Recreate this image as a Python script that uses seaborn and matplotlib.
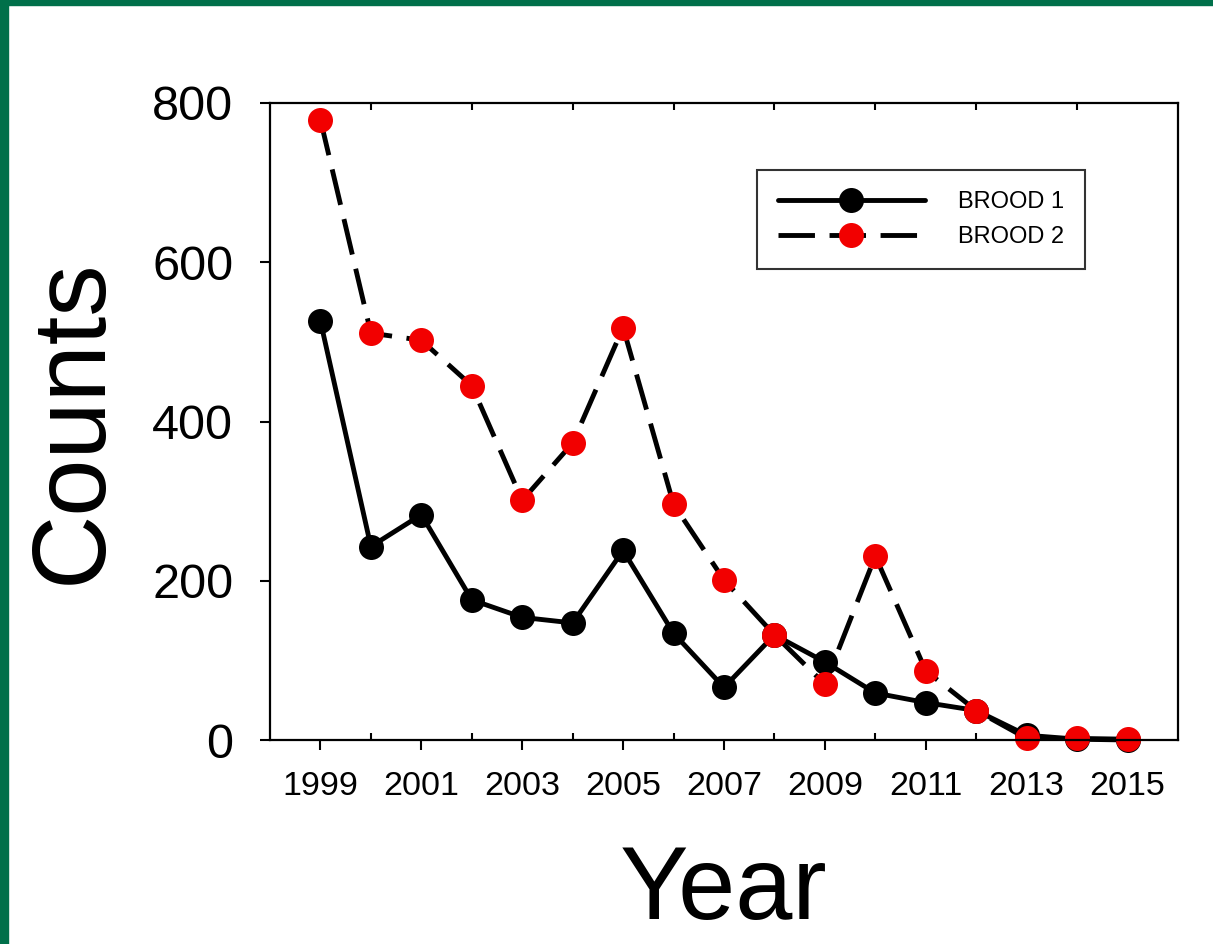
import numpy as np
import pandas as pd
import matplotlib
matplotlib.use("Agg")
import matplotlib.pyplot as plt
from matplotlib.patches import Rectangle
from matplotlib.ticker import FixedLocator
import seaborn as sns

years = list(range(1999, 2016))
brood1 = [526, 243, 283, 176, 154, 147, 238, 134, 66, 132, 98, 59, 47, 37, 6, 1, 0]
brood2 = [779, 511, 502, 445, 301, 373, 518, 296, 201, 132, 70, 231, 87, 37, 2, 2, 1]
major_years = list(range(1999, 2016, 2))
minor_years = list(range(2000, 2015, 2))
y_ticks = [0, 200, 400, 600, 800]
labels = ["BROOD 1", "BROOD 2"]

sns.set_style("white")
plt.rcParams["font.family"] = ["Liberation Sans", "DejaVu Sans"]
plt.rcParams["text.color"] = "black"
plt.rcParams["axes.labelcolor"] = "black"
plt.rcParams["xtick.color"] = "black"
plt.rcParams["ytick.color"] = "black"

W, H = 1213, 944
fig = plt.figure(figsize=(W / 100, H / 100), dpi=100)
fig.patch.set_facecolor("white")
ax = fig.add_axes([270 / W, 1 - 740 / H, (1178 - 270) / W, (740 - 103) / H])

df = pd.DataFrame({"Year": years, "B1": brood1, "B2": brood2})

sns.lineplot(data=df, x="Year", y="B1", ax=ax, color="black", linewidth=3.5,
             marker="o", markersize=18, markerfacecolor="black",
             markeredgewidth=0, label=labels[0])
sns.lineplot(data=df, x="Year", y="B2", ax=ax, color="black", linewidth=3.5,
             marker="o", markersize=18, markerfacecolor="#f20000",
             markeredgewidth=0, label=labels[1])
ax.lines[1].set_dashes([7.5, 3])
for ln in ax.lines:
    ln.set_clip_on(False)

ax.set_xlim(1998, 2016)
ax.set_ylim(0, 800)
ax.set_xticks(major_years)
ax.set_xticklabels([str(y) for y in major_years])
ax.xaxis.set_minor_locator(FixedLocator(minor_years))
ax.set_yticks(y_ticks)

for s in ax.spines.values():
    s.set_visible(True)
    s.set_color("black")
    s.set_linewidth(1.6)

ax.tick_params(axis="x", which="major", direction="out", length=7.5, width=1.5,
               bottom=True, top=False, labelsize=24.5, pad=15, colors="black")
ax.tick_params(axis="x", which="minor", direction="in", length=5, width=1.5,
               bottom=True, top=True)
ax.tick_params(axis="y", which="major", direction="out", length=7.5, width=1.5,
               left=True, right=False, labelsize=35, pad=19, colors="black")

ax.set_xlabel("Year", fontsize=74, labelpad=30, color="black")
ax.set_ylabel("Counts", fontsize=74, labelpad=21, color="black")

leg = ax.legend(loc="upper left", bbox_to_anchor=(757 / W, 1 - 170 / H),
                bbox_transform=fig.transFigure, fontsize=17, frameon=True,
                fancybox=False, handlelength=6.2, handletextpad=1.4,
                borderpad=0.9, labelspacing=0.55, numpoints=1,
                borderaxespad=0)
leg.get_frame().set_edgecolor("black")
leg.get_frame().set_linewidth(1.5)
for t in leg.get_texts():
    t.set_color("black")

green = "#00704A"
fig.patches.append(Rectangle((0, 0), 8 / W, 1, transform=fig.transFigure,
                             color=green, zorder=10))
fig.patches.append(Rectangle((0, 1 - 5 / H), 1, 5 / H, transform=fig.transFigure,
                             color=green, zorder=10))

fig.savefig("out.png", dpi=100, facecolor="white")
